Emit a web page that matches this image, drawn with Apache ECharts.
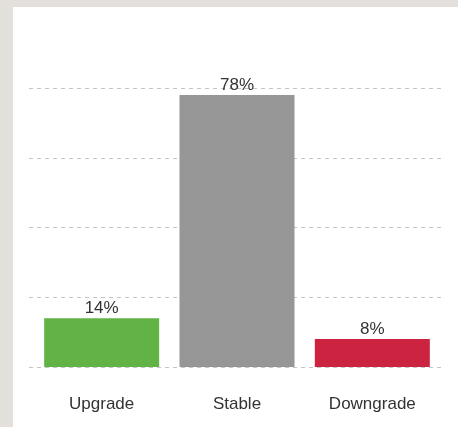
<!DOCTYPE html>
<html>
<head>
<meta charset="utf-8">
<script src="https://cdn.jsdelivr.net/npm/echarts@6/dist/echarts.min.js"></script>
<style>
    html, body { margin: 0; padding: 0; background: #e3dfdb; }
    .panel { position: absolute; left: 13px; top: 7px; width: 445px; height: 420px; background: #fff; }
    #chart { position: absolute; left: 0; top: 0; width: 458px; height: 427px; }
</style>
</head>
<body>
<div class="panel"></div>
<div id="chart"></div>
<script>
    // data
    const categories = ['Upgrade', 'Stable', 'Downgrade'];
    const values = [14, 78, 8];
    const barColors = ['#62b346', '#969696', '#cc2340'];

    const yMin = 0, yMax = 80, yStep = 20;

    let chart = echarts.init(document.getElementById('chart'));
    let option = {
        animation: false,
        backgroundColor: 'transparent',
        grid: [
            { left: 34, right: 18, top: 88, bottom: 60 },
            // wider grid only for the dashed guide lines
            { left: 29, right: 14, top: 88, bottom: 60 }
        ],
        xAxis: [
            {
                type: 'category',
                gridIndex: 0,
                data: categories,
                axisLine: { show: false },
                axisTick: { show: false },
                axisLabel: {
                    margin: 29,
                    fontSize: 17,
                    color: '#333',
                    fontFamily: 'Liberation Sans'
                }
            },
            {
                type: 'category',
                gridIndex: 1,
                data: categories,
                show: false
            }
        ],
        yAxis: [
            {
                type: 'value',
                gridIndex: 0,
                min: yMin, max: yMax, interval: yStep,
                axisLabel: { show: false },
                axisLine: { show: false },
                axisTick: { show: false },
                splitLine: { show: false }
            },
            {
                type: 'value',
                gridIndex: 1,
                min: yMin, max: yMax, interval: yStep,
                axisLabel: { show: false },
                axisLine: { show: false },
                axisTick: { show: false },
                splitLine: {
                    show: true,
                    lineStyle: { color: '#c4c4c4', type: [4, 4], width: 1 }
                }
            }
        ],
        series: [
            {
                type: 'bar',
                xAxisIndex: 0,
                yAxisIndex: 0,
                barWidth: 115,
                data: values.map((v, i) => ({ value: v, itemStyle: { color: barColors[i] } })),
                label: {
                    show: true,
                    position: 'top',
                    distance: 1,
                    formatter: '{c}%',
                    fontSize: 17,
                    color: '#333',
                    fontFamily: 'Liberation Sans'
                }
            }
        ]
    };
    chart.setOption(option);
</script>
</body>
</html>
